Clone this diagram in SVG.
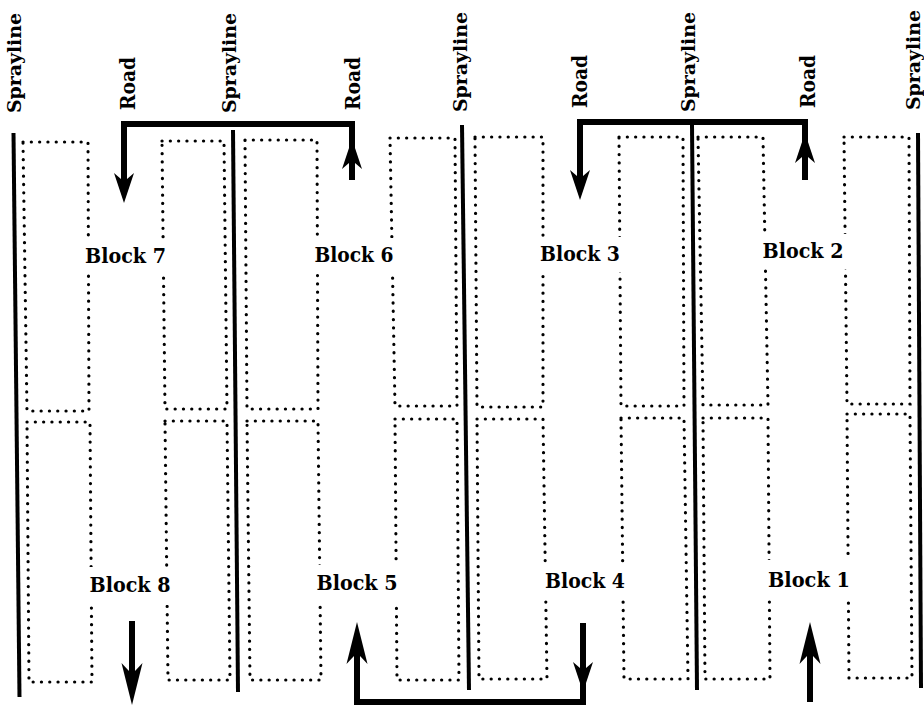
<svg xmlns="http://www.w3.org/2000/svg" xmlns:xlink="http://www.w3.org/1999/xlink" width="924" height="708" viewBox="0 0 924 708">
<style>
  .dot { fill: none; stroke: #000; stroke-width: 3.2; stroke-linecap: round; stroke-dasharray: 0.1 8.2; }
  .spray { fill: none; stroke: #000; stroke-width: 4; stroke-linecap: butt; }
  .road { fill: none; stroke: #000; stroke-width: 6; stroke-linejoin: miter; stroke-linecap: butt; }
  .lbl { font-family: "DejaVu Serif", "Liberation Serif", serif; font-weight: bold; fill: #000; }
  .vt { font-size: 18px; }
  .rd { font-size: 20px; }
  .blk { font-size: 19.5px; text-anchor: middle; }
  .ko { fill: #fff; stroke: none; }
  .ah { fill: #000; stroke: none; }
</style>
<defs>
  <path id="ahS" d="M0 0 L10 30 L3 24 L-3 24 L-10 30 Z"/>
  <path id="ahL" d="M0 0 L10.5 42 L3 34 L-3 34 L-10.5 42 Z"/>
</defs>
<rect width="924" height="708" fill="#fff"/>

<!-- Spraylines -->
<g id="sprayline1">
  <line class="spray" x1="13.5" y1="133" x2="19.5" y2="697"/>
  <text class="lbl vt" transform="translate(21,113) rotate(-90)" textLength="100" lengthAdjust="spacingAndGlyphs">Sprayline</text>
</g>
<g id="sprayline2">
  <line class="spray" x1="233" y1="130" x2="238" y2="692"/>
  <text class="lbl vt" transform="translate(236,113) rotate(-90)" textLength="100" lengthAdjust="spacingAndGlyphs">Sprayline</text>
</g>
<g id="sprayline3">
  <line class="spray" x1="462" y1="125" x2="469" y2="690"/>
  <text class="lbl vt" transform="translate(467,112) rotate(-90)" textLength="100" lengthAdjust="spacingAndGlyphs">Sprayline</text>
</g>
<g id="sprayline4">
  <line class="spray" x1="692" y1="125" x2="697" y2="690"/>
  <text class="lbl vt" transform="translate(695,112) rotate(-90)" textLength="100" lengthAdjust="spacingAndGlyphs">Sprayline</text>
</g>
<g id="sprayline5">
  <line class="spray" x1="918" y1="133" x2="921" y2="688"/>
  <text class="lbl vt" transform="translate(920,110) rotate(-90)" textLength="100" lengthAdjust="spacingAndGlyphs">Sprayline</text>
</g>

<!-- Road labels -->
<g id="road-labels">
  <text class="lbl rd" transform="translate(135,110) rotate(-90)" textLength="53" lengthAdjust="spacingAndGlyphs">Road</text>
  <text class="lbl rd" transform="translate(360,110) rotate(-90)" textLength="53" lengthAdjust="spacingAndGlyphs">Road</text>
  <text class="lbl rd" transform="translate(587,108) rotate(-90)" textLength="53" lengthAdjust="spacingAndGlyphs">Road</text>
  <text class="lbl rd" transform="translate(815,108) rotate(-90)" textLength="53" lengthAdjust="spacingAndGlyphs">Road</text>
</g>

<!-- Blocks -->
<g id="block7">
  <path class="dot" d="M23 142 L88 142 L89 411 L27 411 Z"/>
  <path class="dot" d="M162 141 L224 141 L227 409 L165 409 Z"/>
  <rect class="ko" x="80" y="239" width="92" height="35"/>
  <text class="lbl blk" x="125.5" y="263" textLength="81" lengthAdjust="spacingAndGlyphs">Block 7</text>
</g>
<g id="block8">
  <path class="dot" d="M27 422 L90 422 L92 682 L29 682 Z"/>
  <path class="dot" d="M165 421 L227 421 L230 680 L168 680 Z"/>
  <rect class="ko" x="84" y="567" width="92" height="38"/>
  <text class="lbl blk" x="130" y="592" textLength="81" lengthAdjust="spacingAndGlyphs">Block 8</text>
</g>
<g id="block6">
  <path class="dot" d="M245 140 L317 140 L318 409 L247 409 Z"/>
  <path class="dot" d="M390 138 L455 138 L457 406 L395 406 Z"/>
  <rect class="ko" x="309" y="238" width="91" height="35"/>
  <text class="lbl blk" x="354" y="262" textLength="79" lengthAdjust="spacingAndGlyphs">Block 6</text>
</g>
<g id="block5">
  <path class="dot" d="M247 421 L318 421 L321 680 L250 680 Z"/>
  <path class="dot" d="M395 419 L457 419 L459 680 L397 680 Z"/>
  <rect class="ko" x="311" y="565" width="92" height="37"/>
  <text class="lbl blk" x="357" y="590" textLength="81" lengthAdjust="spacingAndGlyphs">Block 5</text>
</g>
<g id="block3">
  <path class="dot" d="M475 137 L543 137 L543 407 L477 407 Z"/>
  <path class="dot" d="M619 137 L683 137 L684 406 L621 406 Z"/>
  <rect class="ko" x="535" y="237" width="91" height="35"/>
  <text class="lbl blk" x="580" y="261" textLength="80" lengthAdjust="spacingAndGlyphs">Block 3</text>
</g>
<g id="block4">
  <path class="dot" d="M477 419 L543 419 L547 679 L479 679 Z"/>
  <path class="dot" d="M621 418 L684 418 L688 679 L624 679 Z"/>
  <rect class="ko" x="539" y="563" width="92" height="37"/>
  <text class="lbl blk" x="585" y="588" textLength="80" lengthAdjust="spacingAndGlyphs">Block 4</text>
</g>
<g id="block2">
  <path class="dot" d="M698 137 L763 137 L768 405 L703 405 Z"/>
  <path class="dot" d="M844 137 L909 137 L910 404 L847 404 Z"/>
  <rect class="ko" x="758" y="234" width="91" height="35"/>
  <text class="lbl blk" x="803" y="258" textLength="81" lengthAdjust="spacingAndGlyphs">Block 2</text>
</g>
<g id="block1">
  <path class="dot" d="M703 418 L768 418 L770 679 L705 679 Z"/>
  <path class="dot" d="M847 414 L910 414 L912 678 L849 678 Z"/>
  <rect class="ko" x="763" y="560" width="92" height="37"/>
  <text class="lbl blk" x="809" y="587" textLength="82" lengthAdjust="spacingAndGlyphs">Block 1</text>
</g>

<!-- Connectors (road traffic) -->
<g id="connectors">
  <path class="road" d="M352 180 V124 H124 V188"/>
  <use class="ah" xlink:href="#ahS" href="#ahS" transform="translate(352,139)"/>
  <use class="ah" xlink:href="#ahS" href="#ahS" transform="translate(124,203) rotate(180)"/>

  <path class="road" d="M805 180 V122 H580 V185"/>
  <use class="ah" xlink:href="#ahS" href="#ahS" transform="translate(805,133)"/>
  <use class="ah" xlink:href="#ahS" href="#ahS" transform="translate(580,200) rotate(180)"/>

  <path class="road" d="M583 623 V702 H357 V650"/>
  <use class="ah" xlink:href="#ahS" href="#ahS" transform="translate(583,692) rotate(180)"/>
  <use class="ah" xlink:href="#ahL" href="#ahL" transform="translate(357,622)"/>

  <path class="road" d="M132 621 V680"/>
  <use class="ah" xlink:href="#ahL" href="#ahL" transform="translate(132,705) rotate(180)"/>

  <path class="road" d="M810 702 V650"/>
  <use class="ah" xlink:href="#ahL" href="#ahL" transform="translate(810,622)"/>
</g>
</svg>
